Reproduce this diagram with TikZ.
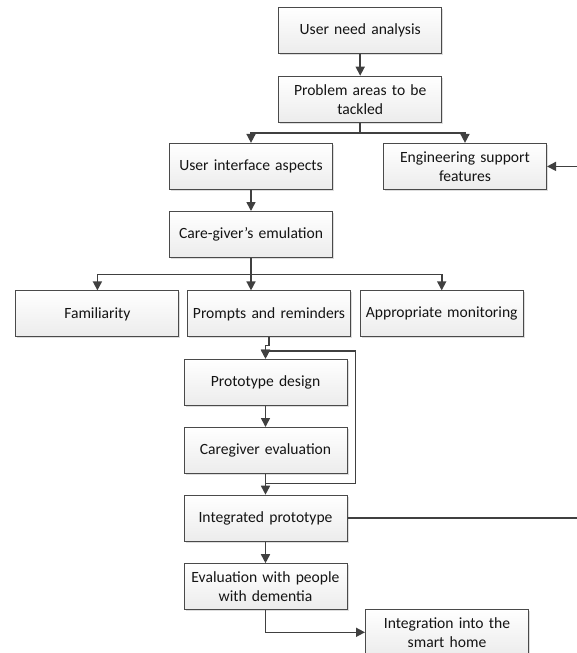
\documentclass[tikz,border=0pt]{standalone}
\usepackage{fontspec}
\setmainfont{Carlito}
\usetikzlibrary{arrows.meta,shadows,calc}
\definecolor{linec}{HTML}{404040}
\definecolor{boxc}{HTML}{4A4A4A}
\definecolor{txtc}{HTML}{141414}
\tikzset{
  box/.style={draw=boxc, line width=1pt, top color=white, bottom color=gray!15,
    minimum width=163pt, minimum height=46pt, inner sep=1pt, align=center,
    text width=158pt, text=txtc, font=\fontsize{15.6pt}{19pt}\selectfont,
    drop shadow={shadow xshift=1.5pt, shadow yshift=-1.5pt, fill=gray!45, opacity=0.6}},
  arr/.style={draw=linec, line width=1.6pt, -{Triangle[length=9pt,width=9pt]}},
  ln/.style={draw=linec, line width=1.6pt}
}
\begin{document}
\begin{tikzpicture}[x=1pt,y=-1pt]
\useasboundingbox (0,0) rectangle (577,653);
\node[box] (una) at (360.2,30.3) {User need analysis};
\node[box] (pat) at (360.2,99.2) {Problem areas to be\\tackled};
\node[box] (uia) at (251,166.4) {User interface aspects};
\node[box] (esf) at (465,166.4) {Engineering support\\features};
\node[box] (cge) at (251,234.5) {Care-giver’s emulation};
\node[box] (fam) at (97.4,313.9) {Familiarity};
\node[box] (par) at (269,313.9) {Prompts and reminders};
\node[box] (apm) at (441.7,313.9) {Appropriate monitoring};
\node[box] (pd) at (265.5,382.2) {Prototype design};
\node[box] (ce) at (265.5,450.5) {Caregiver evaluation};
\node[box] (ip) at (265.5,518.2) {Integrated prototype};
\node[box] (ewp) at (265.5,586.7) {Evaluation with people\\with dementia};
\node[box] (iis) at (447,632.3) {Integration into the\\smart home};
\coordinate (b1) at (360.2,132.7);
\coordinate (b2) at (251,274.3);
\coordinate (lp) at (355.5,351);
% connectors
\draw[arr] (una) -- (pat);
\draw[ln] (pat.south) -- (b1);
\draw[arr] (b1) -| (uia.north);
\draw[arr] (b1) -| (esf.north);
\draw[arr] (uia) -- (cge);
\draw[arr] (cge.south) -- (cge.south |- par.north);
\draw[arr] (b2) -| (fam.north);
\draw[arr] (b2) -| (apm.north);
\draw[arr] (par.south) -- ++(0,8) -| (pd.north);
\draw[arr] (pd) -- (ce);
\draw[arr] (ce) -- (ip);
\draw[arr] (ce.south) -- ++(0,9.5) -| (lp) -| (pd.north);
\draw[arr] (ip) -- (ewp);
\draw[arr] (ewp.south) |- (iis.west);
\draw[arr] (ip.east) -- ++(236,0) |- (esf.east);
\end{tikzpicture}
\end{document}
